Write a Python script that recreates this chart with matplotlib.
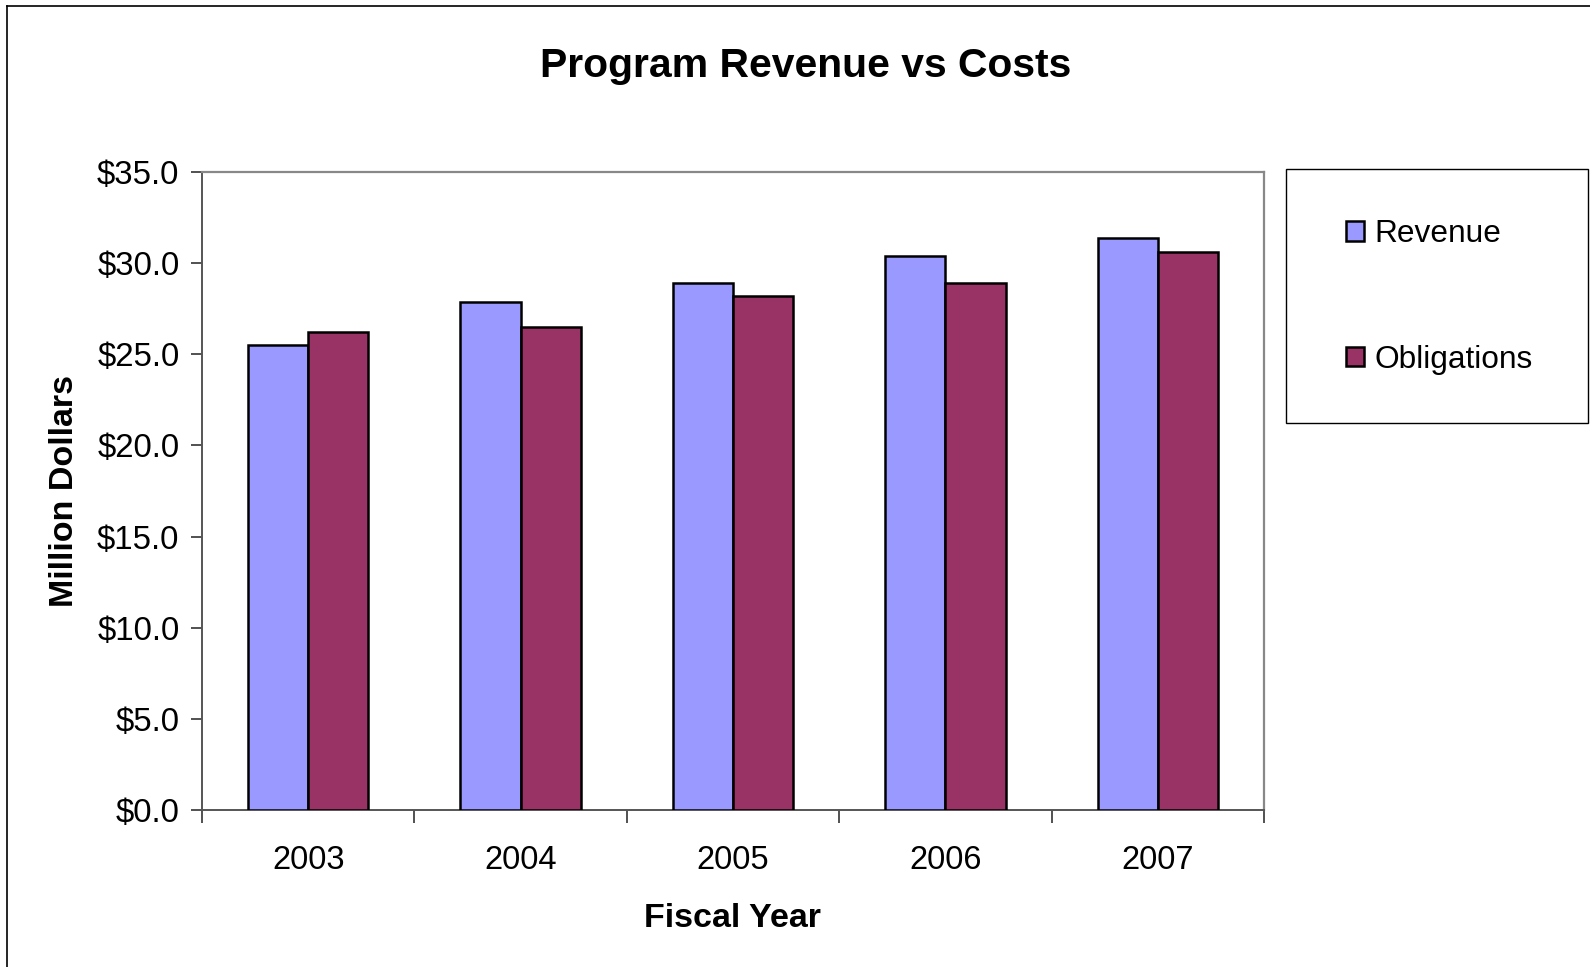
import matplotlib
matplotlib.use("Agg")
import matplotlib.pyplot as plt
from matplotlib.lines import Line2D
from matplotlib.patches import Rectangle, Patch
from matplotlib.ticker import FuncFormatter, FixedLocator
import numpy as np

plt.rcParams['font.family'] = ['Liberation Sans', 'DejaVu Sans']

# ---- data (million dollars) ----
years = ['2003', '2004', '2005', '2006', '2007']
revenue = [25.5, 27.9, 28.9, 30.4, 31.4]
obligations = [26.2, 26.5, 28.2, 28.9, 30.6]

REV_COLOR = '#9999FF'
OBL_COLOR = '#993366'

fig = plt.figure(figsize=(15.9, 9.67), dpi=100)
ax = fig.add_axes([0.127, 0.1624, 0.668, 0.6596])

x = np.arange(len(years))
w = 0.283
ax.bar(x - w / 2, revenue, w, color=REV_COLOR, edgecolor='black', linewidth=1.8, zorder=3)
ax.bar(x + w / 2, obligations, w, color=OBL_COLOR, edgecolor='black', linewidth=1.8, zorder=3)

ax.set_xlim(-0.5, len(years) - 0.5)
ax.set_ylim(0, 35)
ax.set_yticks(np.arange(0, 35.1, 5))
ax.yaxis.set_major_formatter(FuncFormatter(lambda v, _: f'${v:.1f}'))
ax.tick_params(axis='y', direction='out', length=8, width=1.2, pad=8.2,
               labelsize=23.8, color='#333333')

# category labels centred, tick marks between categories
ax.set_xticks(x)
ax.set_xticklabels(years)
ax.xaxis.set_minor_locator(FixedLocator(np.arange(-0.5, len(years), 1.0)))
ax.tick_params(axis='x', which='major', length=0, pad=25, labelsize=23.5)
ax.tick_params(axis='x', which='minor', direction='out', length=9, width=1.2, color='#333333')

for side in ['top', 'right']:
    ax.spines[side].set_color('#888888')
    ax.spines[side].set_linewidth(1.6)
for side in ['left', 'bottom']:
    ax.spines[side].set_color('#555555')
    ax.spines[side].set_linewidth(1.4)

ax.set_xlabel('Fiscal Year', fontsize=24.5, fontweight='bold', labelpad=20)
ax.set_ylabel('Million Dollars', fontsize=24.5, fontweight='bold', labelpad=12)

fig.text(0.5065, 0.932, 'Program Revenue vs Costs', ha='center', va='center',
         fontsize=29.4, fontweight='bold')

# legend box with entries inside
fig.patches.append(Rectangle((0.809, 0.563), 0.19, 0.262, transform=fig.transFigure,
                             facecolor='white', edgecolor='black', linewidth=1.0))
handles = [Patch(facecolor=REV_COLOR, edgecolor='black', linewidth=1.8),
           Patch(facecolor=OBL_COLOR, edgecolor='black', linewidth=1.8)]
fig.legend(handles, ['Revenue', 'Obligations'], loc='upper left',
           bbox_to_anchor=(0.8385, 0.7865), frameon=False, fontsize=22.8,
           handlelength=0.58, handleheight=0.58, handletextpad=0.33,
           labelspacing=3.02, borderaxespad=0)

# outer chart-area border (left and top edges)
fig.add_artist(Line2D([0.0047, 0.0047], [0.0, 0.9938], transform=fig.transFigure,
                      color='black', linewidth=1.2))
fig.add_artist(Line2D([0.0047, 1.0], [0.9938, 0.9938], transform=fig.transFigure,
                      color='black', linewidth=1.2))

fig.savefig('out.png', dpi=100)
